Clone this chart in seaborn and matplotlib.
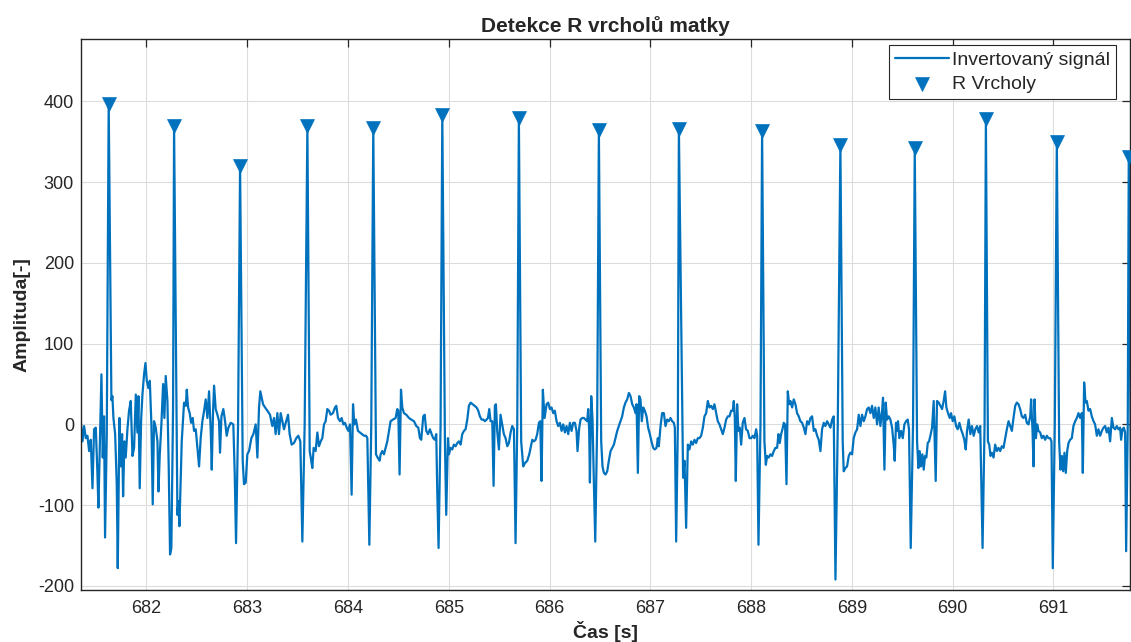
import pandas as pd
import matplotlib
matplotlib.use("Agg")
import matplotlib.pyplot as plt
import seaborn as sns

# invertovany signal - cas [s] a amplituda
cas = [
    681.348, 681.365, 681.381, 681.398, 681.414, 681.431, 681.447, 681.464, 681.480, 681.497,
    681.513, 681.523, 681.540, 681.553, 681.566, 681.579, 681.589, 681.606, 681.625, 681.652,
    681.662, 681.672, 681.689, 681.705, 681.715, 681.732, 681.745, 681.758, 681.768, 681.781,
    681.794, 681.811, 681.827, 681.844, 681.861, 681.877, 681.894, 681.910, 681.920, 681.933,
    681.947, 681.960, 681.976, 681.990,
    682.003, 682.019, 682.033, 682.049, 682.062, 682.075, 682.092, 682.109, 682.119, 682.132,
    682.148, 682.165, 682.178, 682.191, 682.208, 682.221, 682.234, 682.247, 682.264, 682.274,
    682.307, 682.317, 682.327, 682.350, 682.373, 682.390, 682.400, 682.413, 682.429, 682.443,
    682.459, 682.472, 682.489, 682.505, 682.522, 682.538, 682.555, 682.572, 682.588, 682.605,
    682.621, 682.638, 682.648, 682.661, 682.671, 682.687, 682.704, 682.720, 682.730, 682.744,
    682.763, 682.780, 682.796, 682.813,
    682.836, 682.862, 682.876, 682.889, 682.909, 682.929, 682.955, 682.968, 682.985, 683.001,
    683.018, 683.041, 683.061, 683.084, 683.101, 683.117, 683.130, 683.144, 683.157, 683.177,
    683.200, 683.226, 683.249, 683.266, 683.282, 683.299, 683.315, 683.332, 683.349, 683.365,
    683.382, 683.405, 683.421, 683.441, 683.464, 683.487, 683.507, 683.527, 683.547, 683.570,
    683.597, 683.620, 683.633, 683.646, 683.659, 683.679, 683.696, 683.712, 683.729, 683.745,
    683.762, 683.778, 683.795, 683.812, 683.828, 683.851, 683.871, 683.884, 683.901, 683.921,
    683.937, 683.954, 683.970, 683.987, 684.003, 684.020, 684.036, 684.050, 684.063, 684.079,
    684.099, 684.119, 684.139, 684.159, 684.179, 684.192, 684.212, 684.231, 684.251, 684.278,
    684.294, 684.314,
    684.324, 684.341, 684.357, 684.374, 684.390, 684.407, 684.423, 684.446, 684.473, 684.489,
    684.499, 684.512, 684.526, 684.539, 684.555, 684.579, 684.605, 684.628, 684.655, 684.678,
    684.698, 684.714, 684.727, 684.747, 684.761, 684.777, 684.794, 684.813, 684.830, 684.846,
    684.863, 684.876, 684.886, 684.899, 684.919, 684.936, 684.962, 684.975, 684.992, 685.002,
    685.018, 685.035, 685.051, 685.068, 685.085, 685.101, 685.118, 685.134, 685.151, 685.167,
    685.184, 685.200, 685.217, 685.237, 685.257, 685.276, 685.293, 685.309, 685.326, 685.343,
    685.359, 685.376, 685.389, 685.402, 685.415, 685.432, 685.445, 685.458, 685.468, 685.481,
    685.498, 685.514, 685.531, 685.547, 685.564, 685.581, 685.597, 685.614, 685.630, 685.647,
    685.663, 685.680, 685.696, 685.719, 685.739, 685.756, 685.779, 685.799,
    685.829, 685.845, 685.862, 685.878, 685.895, 685.908, 685.921, 685.934, 685.951, 685.971,
    685.987, 686.004, 686.020, 686.037, 686.053, 686.070, 686.086, 686.103, 686.120, 686.136,
    686.153, 686.169, 686.186, 686.202, 686.219, 686.235, 686.252, 686.268, 686.278, 686.295,
    686.308, 686.325, 686.341, 686.358, 686.374, 686.384, 686.394, 686.401, 686.414, 686.427,
    686.440, 686.454, 686.473, 686.490, 686.513, 686.526, 686.540, 686.556, 686.573, 686.589,
    686.606, 686.622, 686.639, 686.655, 686.672, 686.688, 686.705, 686.721, 686.738, 686.754,
    686.771, 686.788, 686.804, 686.821, 686.837, 686.854, 686.864, 686.877, 686.890, 686.903,
    686.916, 686.930, 686.946, 686.963, 686.979, 686.996, 687.012, 687.029, 687.045, 687.062,
    687.075, 687.085, 687.102, 687.118, 687.135, 687.151, 687.168, 687.184, 687.201, 687.217,
    687.234, 687.244, 687.257, 687.274, 687.284,
    687.326, 687.340, 687.356, 687.373, 687.389, 687.406, 687.422, 687.439, 687.455, 687.472,
    687.488, 687.505, 687.522, 687.538, 687.555, 687.571, 687.588, 687.604, 687.621, 687.637,
    687.654, 687.670, 687.687, 687.703, 687.720, 687.737, 687.753, 687.770, 687.786, 687.803,
    687.819, 687.829, 687.839, 687.849, 687.862, 687.875, 687.889, 687.902, 687.918, 687.935,
    687.951, 687.968, 687.985, 688.001, 688.018, 688.034, 688.051, 688.061, 688.074, 688.094,
    688.110, 688.133, 688.147, 688.160, 688.176, 688.193, 688.209, 688.226, 688.242, 688.259,
    688.272, 688.285, 688.299, 688.312, 688.325, 688.338, 688.352, 688.365, 688.378, 688.391,
    688.408, 688.424, 688.441, 688.457, 688.474, 688.490, 688.507, 688.524, 688.540, 688.557,
    688.573, 688.590, 688.606, 688.623, 688.639, 688.656, 688.672, 688.689, 688.705, 688.722,
    688.738, 688.755, 688.772,
    688.788, 688.805, 688.821, 688.838, 688.861, 688.887, 688.910, 688.920, 688.937, 688.953,
    688.970, 688.986, 689.003, 689.019, 689.036, 689.053, 689.069, 689.086, 689.102, 689.119,
    689.135, 689.152, 689.168, 689.185, 689.201, 689.218, 689.234, 689.251, 689.267, 689.284,
    689.301, 689.310, 689.324, 689.337, 689.350, 689.367, 689.383, 689.400, 689.416, 689.426,
    689.439, 689.449, 689.459, 689.472, 689.489, 689.506, 689.522, 689.539, 689.555, 689.568,
    689.585, 689.608, 689.625, 689.648, 689.661, 689.674, 689.687, 689.701, 689.714, 689.727,
    689.740, 689.754, 689.767, 689.780, 689.797, 689.813, 689.823, 689.833, 689.846, 689.863,
    689.879, 689.896, 689.912, 689.926, 689.939, 689.955, 689.972, 689.985, 690.002, 690.018,
    690.035, 690.051, 690.068, 690.084, 690.101, 690.117, 690.131, 690.144, 690.160, 690.177,
    690.193, 690.210, 690.226, 690.243, 690.260,
    690.275, 690.298, 690.318, 690.331, 690.351, 690.364, 690.377, 690.390, 690.407, 690.423,
    690.440, 690.456, 690.473, 690.489, 690.506, 690.523, 690.539, 690.556, 690.572, 690.589,
    690.605, 690.622, 690.638, 690.655, 690.671, 690.688, 690.704, 690.721, 690.737, 690.754,
    690.771, 690.780, 690.794, 690.804, 690.814, 690.827, 690.840, 690.853, 690.870, 690.886,
    690.903, 690.919, 690.936, 690.952, 690.969, 690.982, 690.995, 691.015, 691.035, 691.058,
    691.071, 691.085, 691.098, 691.111, 691.124, 691.138, 691.151, 691.167, 691.184, 691.200,
    691.217, 691.234, 691.250, 691.267, 691.283, 691.293, 691.306, 691.320, 691.333, 691.349,
    691.366, 691.382, 691.399, 691.415, 691.432, 691.448, 691.465, 691.482, 691.498, 691.515,
    691.531, 691.548, 691.564, 691.581, 691.597, 691.614, 691.630, 691.647, 691.663, 691.673,
    691.687, 691.700, 691.713, 691.723, 691.739, 691.749, 691.775,
]
amp = [
    4, -21, -2, -17, -14, -33, -19, -79, -6, -4,
    -60, -103, -8, 62, -41, 10, -140, -12, 397, 30,
    35, 8, -12, -74, -178, 8, -52, -12, -89, -21,
    -41, -6, 17, 29, -39, -29, 37, -10, 35, -79,
    6, 37, 62, 76,
    54, 45, 54, 0, -99, 4, -4, -21, -83, -37,
    0, 50, 8, 60, 29, -54, -161, -153, 21, 369,
    -112, -95, -126, -21, 27, 23, 43, 21, 14, 2,
    8, -8, -6, -29, -52, -17, 4, 17, 31, 8,
    41, -8, -56, 17, 48, 19, 12, 4, -35, 10,
    19, 4, -14, -4,
    2, 0, -62, -147, 0, 320, -45, -74, -72, -37,
    -33, -17, -12, 0, -41, 21, 41, 33, 25, 21,
    17, 12, -2, 8, -12, 14, -12, 14, 4, -6,
    2, 12, -12, -25, -23, -17, -14, -21, -145, 0,
    369, -33, -43, -54, -29, -33, -10, -27, -21, -17,
    0, 4, 19, 17, 12, 14, 21, 23, 8, 4,
    8, 0, 2, -4, -8, 0, -87, 25, 0, 6,
    -8, -10, -12, -14, -14, -17, -149, 0, 367, -37,
    -41, -45,
    -37, -33, -37, -29, -21, -8, 4, 6, 8, 19,
    17, -62, 43, 21, 14, 12, 8, 6, 4, -2,
    -4, -17, -19, 10, 12, -8, -12, -6, -12, -17,
    -19, -12, -83, -153, 0, 383, -21, -112, -17, -37,
    -29, -31, -25, -27, -23, -21, -25, -12, -8, -6,
    6, 23, 27, 25, 23, 21, 17, 10, 6, 6,
    4, 6, 8, 19, 4, 4, -76, 23, 25, -8,
    -31, 12, 0, -12, -17, -27, -23, -10, -2, -6,
    -147, 0, 380, -21, -52, -48, -45, -37,
    -19, -21, -19, -12, 2, 4, -70, 43, 8, 25,
    27, 19, 21, 14, 17, 4, -2, 2, -8, 0,
    -10, -2, -12, 2, -8, 2, 2, -8, -33, -4,
    6, 8, 8, 6, 4, 19, -8, -72, 35, 6,
    -70, -145, 0, 364, -21, -52, -60, -62, -58, -45,
    -33, -29, -25, -17, -8, -2, 4, 10, 21, 27,
    31, 39, 35, 25, 21, 14, 25, -60, 35, 31,
    4, 21, 17, 10, -4, -12, -21, -29, -31, -29,
    -17, -27, -2, 14, 14, -2, 6, 4, 8, 4,
    2, -4, -145, 0, 366,
    -66, -45, -128, -25, -31, -21, -25, -19, -23, -17,
    -17, -14, -4, 10, 14, 29, 21, 23, 19, 25,
    14, 4, 0, -6, -12, -4, 6, 10, 10, 17,
    17, 29, 8, -70, 25, -8, -4, -25, 2, 8,
    -6, -8, -17, -17, -14, -17, -6, -14, -149, 0,
    363, -21, -50, -39, -41, -37, -39, -33, -29, -29,
    -12, -23, -12, -6, 2, 0, -74, 41, 25, 29,
    21, 31, 25, 14, 10, 4, 2, -4, -12, 4,
    0, 8, 10, -8, -6, -14, -19, -33, -6, 2,
    -2, 4, 0,
    -4, 6, 10, -192, 0, 346, -21, -58, -54, -52,
    -39, -35, -37, -17, -10, -6, 12, -2, 12, 4,
    10, 19, 21, 14, 23, 8, 21, 0, 21, -2,
    17, 33, -56, 27, 6, 10, 6, -4, -25, -45,
    2, -8, 4, -17, -8, -17, 0, 4, 6, -6,
    -153, 0, 342, -21, -54, -33, -52, -37, -56, -39,
    -41, -23, -21, -14, -4, 29, -21, -70, 29, 27,
    23, 19, 29, 41, 21, 14, 8, 14, 4, 10,
    -2, -6, 2, -6, -12, -19, -31, -8, 6, -12,
    -2, -14, -6, -2, -10,
    -2, -153, 0, 378, -21, -25, -39, -35, -41, -25,
    -33, -29, -33, -27, -29, -17, -6, 4, -2, -8,
    8, 23, 27, 25, 19, 10, 8, 12, 2, 0,
    10, 31, -8, -52, 31, -17, 0, -8, -10, -17,
    -14, -19, -14, -17, -17, -21, -178, 0, 350, -21,
    -56, -39, -58, -35, -60, -33, -23, -19, -17, -2,
    4, 8, 14, 8, 14, -60, 52, 27, 29, 17,
    19, 10, 4, 0, -14, -6, -14, -8, -4, -2,
    -10, -4, -21, 8, -4, -6, -2, -6, -4, -19,
    -6, -4, -10, -157, 0, 331, -160,
]

# detekovane R vrcholy
r_cas = [681.625, 682.274, 682.929, 683.597, 684.251, 684.936, 685.696, 686.490,
         687.284, 688.110, 688.887, 689.625, 690.331, 691.035, 691.749]
r_amp = [397, 369, 320, 369, 367, 383, 380, 364, 366, 363, 346, 342, 378, 350, 331]

x_ticks = [682, 683, 684, 685, 686, 687, 688, 689, 690, 691]
y_ticks = [-200, -100, 0, 100, 200, 300, 400]

signal_df = pd.DataFrame({"cas": cas, "amp": amp})
peaks_df = pd.DataFrame({"cas": r_cas, "amp": r_amp})

sns.set_theme(style="whitegrid")
plt.rcParams["font.family"] = ["Liberation Sans", "DejaVu Sans"]
plt.rcParams["axes.unicode_minus"] = False

modra = "#0072BD"
seda = "#262626"

fig = plt.figure(figsize=(11.31, 6.42), dpi=100)
ax = fig.add_axes([0.0716, 0.081, 0.9274, 0.858])

sns.lineplot(data=signal_df, x="cas", y="amp", sort=False, estimator=None,
             color=modra, linewidth=1.6, label="Invertovaný signál", ax=ax)
sns.scatterplot(data=peaks_df, x="cas", y="amp", marker="v", s=100, color=modra,
                edgecolor=modra, linewidth=0.5, label="R Vrcholy", zorder=3, ax=ax)

ax.set_xlim(681.35, 691.76)
ax.set_ylim(-205, 477)
ax.set_xticks(x_ticks)
ax.set_yticks(y_ticks)

ax.grid(True, color="#dcdcdc", linewidth=0.8)
ax.set_facecolor("white")
for side in ax.spines.values():
    side.set_color(seda)
    side.set_linewidth(1.0)
ax.tick_params(direction="in", length=6, width=0.9, colors=seda, labelsize=13,
               top=True, right=True, pad=5)
ax.tick_params(axis="x", pad=7)

ax.set_title("Detekce R vrcholů matky", fontsize=15, fontweight="bold", pad=5)
ax.set_xlabel("Čas [s]", fontsize=14, fontweight="bold", labelpad=3)
ax.set_ylabel("Amplituda[-]", fontsize=14, fontweight="bold", labelpad=5)

leg = ax.legend(loc="upper right", bbox_to_anchor=(0.9866, 0.989), fontsize=14,
                fancybox=False, framealpha=1, edgecolor=seda, borderaxespad=0,
                handlelength=2.8, handletextpad=0.15, borderpad=0.3, labelspacing=0.35)
leg.get_frame().set_linewidth(0.8)

fig.savefig("out.png", dpi=100)
